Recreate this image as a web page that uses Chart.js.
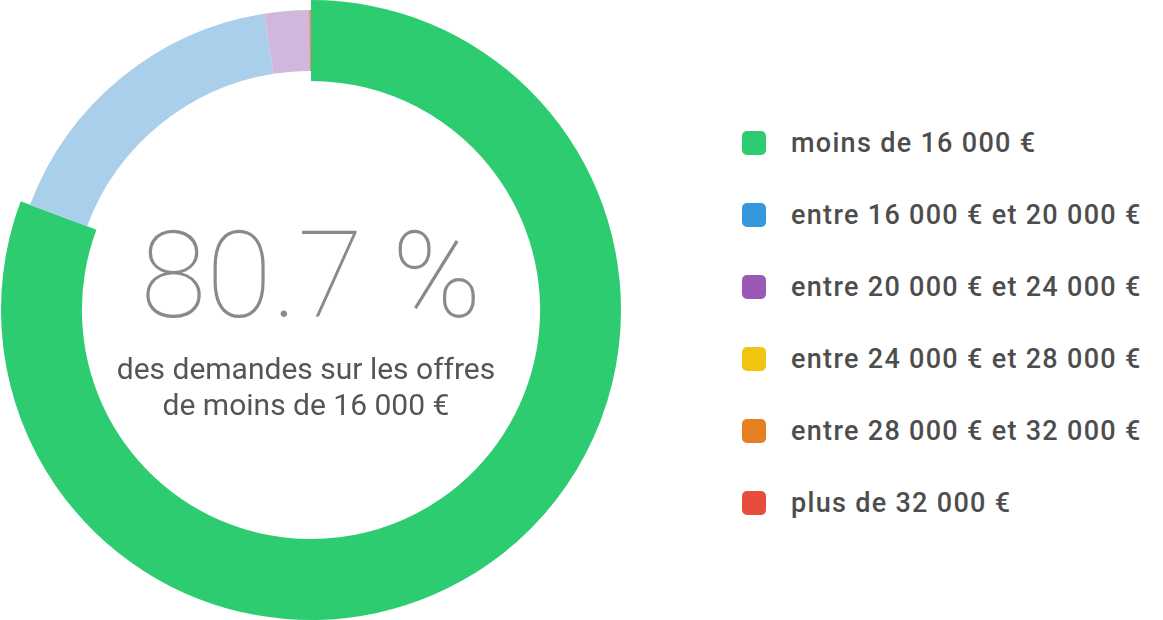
<!DOCTYPE html>
<html>
<head>
<meta charset="utf-8">
<script src="https://cdn.jsdelivr.net/npm/chart.js@4/dist/chart.umd.min.js"></script>
<style>
  html, body { margin: 0; padding: 0; background: #fff; width: 1163px; height: 620px; overflow: hidden; font-family: Roboto, sans-serif; }
  #wrap { position: absolute; left: 0; top: 0; width: 622px; height: 620px; }
  #center { position: absolute; left: 0; top: 0; width: 622px; pointer-events: none; text-align: center; }
  #big { position: absolute; left: 0; width: 622px; top: 206px; font-size: 120px; font-weight: 100; color: #8a8a8a; line-height: 140px; }
  #sub { position: absolute; left: -5px; width: 622px; top: 351px; font-size: 30px; font-weight: 400; color: #555; line-height: 36px; }
  #legend { position: absolute; left: 742px; top: 0; }
  .item { position: absolute; left: 0; white-space: nowrap; height: 30px; }
  .sw { position: absolute; left: 0; width: 24px; height: 24px; border-radius: 5px; }
  .lbl { position: absolute; left: 49px; font-size: 27px; font-weight: 500; color: #4d4d4d; line-height: 30px; letter-spacing: 1.3px; }
</style>
</head>
<body>
<div id="wrap"><canvas id="c" width="622" height="620"></canvas></div>
<div id="center"><div id="big"></div><div id="sub"></div></div>
<div id="legend"></div>
<script>
const categories = ["moins de 16 000 €", "entre 16 000 € et 20 000 €", "entre 20 000 € et 24 000 €", "entre 24 000 € et 28 000 €", "entre 28 000 € et 32 000 €", "plus de 32 000 €"];
const values = [80.7, 16.8, 2.4, 0, 0, 0.1];
const legendColors = ["#2ecc71", "#3498db", "#9b59b6", "#f1c40f", "#e67e22", "#e74c3c"];
const sliceColors = ["#2ecc71", "#aacfea", "#d0b8dc", "#f9e29f", "#f5c9a4", "#e98a80"];
const headline = "80.7 %";
const subtitle = ["des demandes sur les offres", "de moins de 16 000 €"];

const enlargeFirst = {
  id: 'enlargeFirst',
  afterDatasetsUpdate(chart) {
    const arc = chart.getDatasetMeta(0).data[0];
    arc.outerRadius += 10;
    arc.innerRadius -= 10;
  }
};

new Chart(document.getElementById('c'), {
  type: 'doughnut',
  data: {
    labels: categories,
    datasets: [{
      data: values,
      backgroundColor: sliceColors,
      borderWidth: 0,
      hoverOffset: 0
    }]
  },
  options: {
    responsive: false,
    animation: false,
    events: [],
    radius: 300,
    cutout: '79.7%',
    plugins: { legend: { display: false }, tooltip: { enabled: false } }
  },
  plugins: [enlargeFirst]
});

document.getElementById('big').textContent = headline;
document.getElementById('sub').innerHTML = subtitle.join('<br>');
const lg = document.getElementById('legend');
categories.forEach((c, i) => {
  const it = document.createElement('div');
  it.className = 'item';
  it.style.top = (128 + i * 72) + 'px';
  it.innerHTML = '<div class="sw" style="top:3px;background:' + legendColors[i] + '"></div><div class="lbl">' + c + '</div>';
  lg.appendChild(it);
});
</script>
</body>
</html>
